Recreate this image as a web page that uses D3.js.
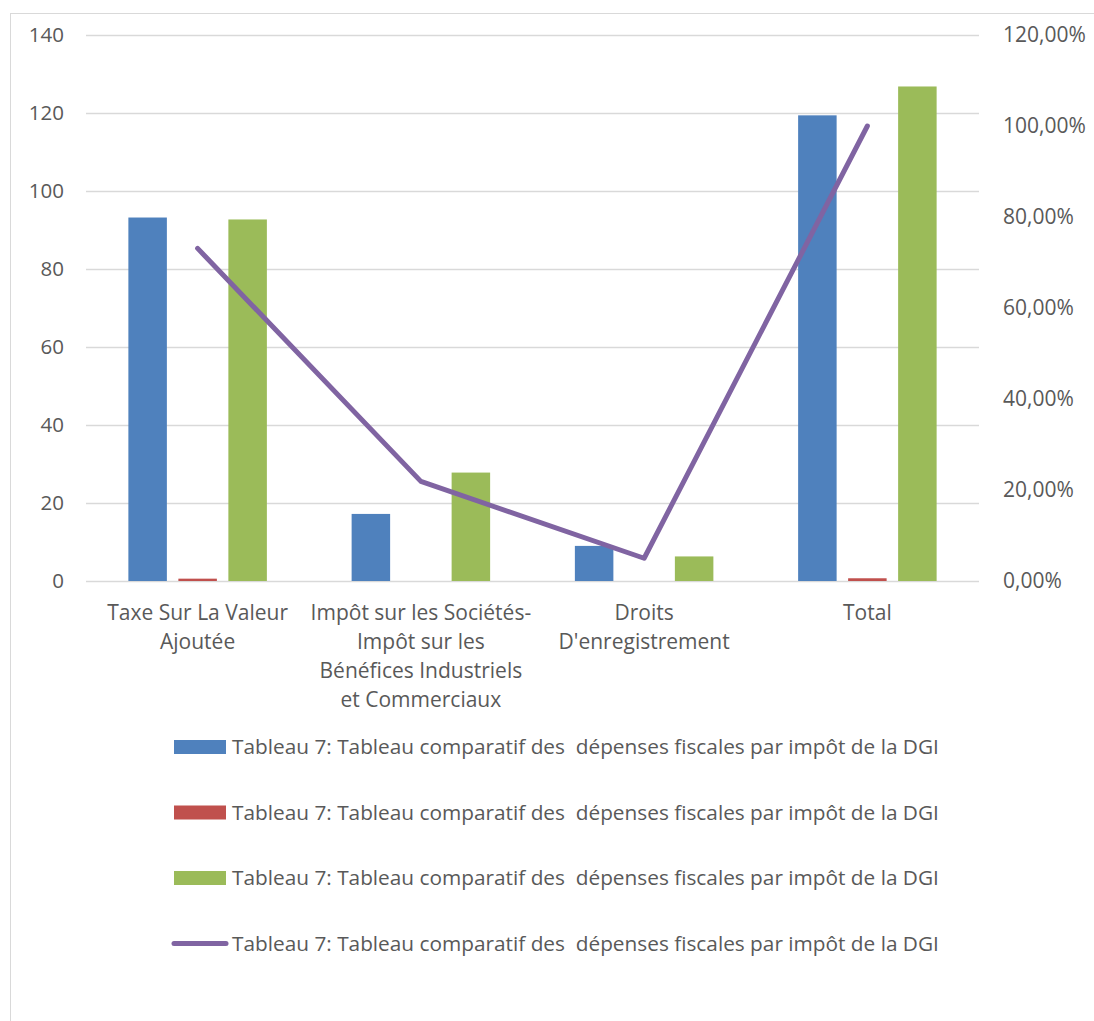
<!DOCTYPE html>
<html>
<head>
<meta charset="utf-8">
<script src="https://cdn.jsdelivr.net/npm/d3@7"></script>
<style>
  html, body { margin: 0; padding: 0; background: #fff; }
  svg text { font-family: "Open Sans", sans-serif; fill: #595959; }
</style>
</head>
<body>
<svg id="chart" width="1094" height="1021"></svg>
<script>
// Tax expenditure comparison by tax (DGI)
const categories = [
  "Taxe Sur La Valeur Ajoutée",
  "Impôt sur les Sociétés-Impôt sur les Bénéfices Industriels et Commerciaux",
  "Droits D'enregistrement",
  "Total"
];
const categoryLines = [
  ["Taxe Sur La Valeur", "Ajoutée"],
  ["Impôt sur les Sociétés-", "Impôt sur les", "Bénéfices Industriels", "et Commerciaux"],
  ["Droits", "D'enregistrement"],
  ["Total"]
];
const seriesName = "Tableau 7: Tableau comparatif des  dépenses fiscales par impôt de la DGI";
const seriesBlue = [93.2, 17.2, 9.0, 119.4];
const seriesRed = [0.6, 0, 0, 0.7];
const seriesGreen = [92.7, 27.8, 6.3, 126.8];
const seriesShare = [0.731, 0.219, 0.05, 1.0];
const leftTicks = [0, 20, 40, 60, 80, 100, 120, 140];
const rightTicks = [0, 0.2, 0.4, 0.6, 0.8, 1.0, 1.2];

const colors = { blue: "#4f81bd", red: "#c0504d", green: "#9bbb59", purple: "#8064a2" };
const fontSize = "21px";

const svg = d3.select("#chart");

// outer chart frame
svg.append("rect")
  .attr("x", 10.5).attr("y", 13.5)
  .attr("width", 1200).attr("height", 1200)
  .attr("fill", "none").attr("stroke", "#d9d9d9").attr("stroke-width", 1);

const plot = { left: 86, right: 979, top: 35, bottom: 581 };

const x = d3.scaleBand().domain(categories).range([plot.left, plot.right]).padding(0);
const y = d3.scaleLinear().domain([0, 140]).range([plot.bottom, plot.top]);
const y2 = d3.scaleLinear().domain([0, 1.2]).range([plot.bottom, plot.top]);
const barSeries = ["blue", "red", "green"];
const inner = d3.scaleBand().domain(barSeries).range([-75, 75]).paddingInner(0.23).paddingOuter(0.115);

const frLocale = d3.formatLocale({ decimal: ",", thousands: " ", grouping: [3], currency: ["", " €"] });
const pct = frLocale.format(".2%");

// gridlines
svg.append("g")
  .selectAll("line")
  .data(leftTicks)
  .join("line")
  .attr("x1", plot.left).attr("x2", plot.right)
  .attr("y1", d => Math.round(y(d)) + 0.5).attr("y2", d => Math.round(y(d)) + 0.5)
  .attr("stroke", "#d9d9d9").attr("stroke-width", 1.3);

// left axis
const leftAxis = svg.append("g")
  .attr("transform", `translate(${plot.left - 22},0)`)
  .call(d3.axisLeft(y).tickValues(leftTicks).tickSize(0).tickPadding(0));
leftAxis.select(".domain").remove();
leftAxis.selectAll("text").style("font-size", "20.5px").attr("fill", "#595959");

// right axis
const rightAxis = svg.append("g")
  .attr("transform", `translate(${plot.right + 24},0)`)
  .call(d3.axisRight(y2).tickValues(rightTicks).tickFormat(pct).tickSize(0).tickPadding(0));
rightAxis.select(".domain").remove();
rightAxis.selectAll("text").style("font-size", fontSize).attr("fill", "#595959");

// bars
const barData = [];
categories.forEach((c, i) => {
  barData.push({ cat: c, key: "blue", v: seriesBlue[i] });
  barData.push({ cat: c, key: "red", v: seriesRed[i] });
  barData.push({ cat: c, key: "green", v: seriesGreen[i] });
});
svg.append("g")
  .selectAll("rect")
  .data(barData.filter(d => d.v > 0))
  .join("rect")
  .attr("x", d => x(d.cat) + x.bandwidth() / 2 + inner(d.key))
  .attr("width", inner.bandwidth())
  .attr("y", d => y(d.v))
  .attr("height", d => y(0) - y(d.v))
  .attr("fill", d => colors[d.key]);

// share line on the secondary axis
const line = d3.line()
  .x((d, i) => x(categories[i]) + x.bandwidth() / 2)
  .y(d => y2(d));
svg.append("path")
  .datum(seriesShare)
  .attr("d", line)
  .attr("fill", "none")
  .attr("stroke", colors.purple)
  .attr("stroke-width", 5)
  .attr("stroke-linecap", "round")
  .attr("stroke-linejoin", "round");

// category labels
const catG = svg.append("g");
categories.forEach((c, i) => {
  const t = catG.append("text")
    .attr("text-anchor", "middle")
    .style("font-size", fontSize)
    .attr("x", x(c) + x.bandwidth() / 2)
    .attr("y", 620);
  categoryLines[i].forEach((ln, j) => {
    t.append("tspan")
      .attr("x", x(c) + x.bandwidth() / 2)
      .attr("dy", j === 0 ? 0 : 29)
      .text(ln);
  });
});

// legend
const legendItems = [
  { type: "rect", color: colors.blue },
  { type: "rect", color: colors.red },
  { type: "rect", color: colors.green },
  { type: "line", color: colors.purple }
];
const lg = svg.append("g");
legendItems.forEach((it, i) => {
  const cy = 747 + i * 65.5;
  if (it.type === "rect") {
    lg.append("rect").attr("x", 174).attr("y", cy - 7).attr("width", 52).attr("height", 14).attr("fill", it.color);
  } else {
    lg.append("line").attr("x1", 174).attr("x2", 226).attr("y1", cy).attr("y2", cy)
      .attr("stroke", it.color).attr("stroke-width", 5).attr("stroke-linecap", "round");
  }
  lg.append("text")
    .attr("x", 232).attr("y", cy)
    .attr("dy", "0.35em")
    .style("font-size", "20.8px")
    .style("white-space", "pre")
    .attr("xml:space", "preserve")
    .text(seriesName);
});
</script>
</body>
</html>
